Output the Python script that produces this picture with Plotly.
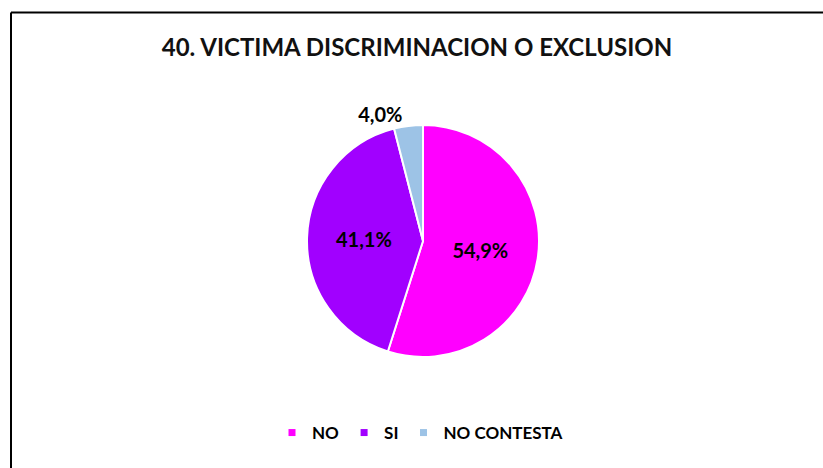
import plotly.graph_objects as go

# Survey answers for question 40
categories = ["NO", "SI", "NO CONTESTA"]
shares = [54.9, 41.1, 4.0]
colors = ["#FF00FF", "#A100FF", "#9DC3E6"]
title_text = "40. VICTIMA DISCRIMINACION O EXCLUSION"

W, H = 823, 468
FONT = "Lato, sans-serif"

fig = go.Figure()
fig.add_trace(
    go.Pie(
        labels=categories,
        values=shares,
        sort=False,
        direction="clockwise",
        rotation=0,
        showlegend=False,
        marker=dict(colors=colors, line=dict(color="white", width=2)),
        texttemplate="%{percent:.1%}",
        textposition=["inside", "inside", "outside"],
        textfont=dict(family=FONT, size=20, color="black", weight="bold"),
        insidetextorientation="horizontal",
        hoverinfo="label+percent",
        domain=dict(x=[(423 - 140) / W, (423 + 140) / W],
                    y=[1 - 357 / H, 1 - 125 / H]),
    )
)

# legend entries with small square keys
for name, col in zip(categories, colors):
    fig.add_trace(
        go.Scatter(
            x=[None], y=[None], mode="markers", name=name,
            marker=dict(symbol="square", size=7, color=col),
            hoverinfo="skip",
        )
    )

fig.update_layout(
    width=W,
    height=H,
    margin=dict(l=0, r=0, t=0, b=0),
    paper_bgcolor="white",
    plot_bgcolor="white",
    separators=",.",
    xaxis=dict(visible=False),
    yaxis=dict(visible=False),
    title=dict(
        text=title_text,
        x=417 / W,
        xanchor="center",
        y=1 - 48 / H,
        yanchor="middle",
        font=dict(family=FONT, size=24, color="#111111", weight="bold"),
    ),
    legend=dict(
        orientation="h",
        x=420 / W,
        xanchor="center",
        y=1 - 433 / H,
        yanchor="middle",
        font=dict(family=FONT, size=17, color="black", weight="bold"),
        itemwidth=30,
        traceorder="normal",
    ),
    shapes=[
        # chart frame (top and left edges visible)
        dict(type="line", xref="paper", yref="paper",
             x0=11 / W, x1=1.02, y0=1 - 12.5 / H, y1=1 - 12.5 / H,
             line=dict(color="black", width=2)),
        dict(type="line", xref="paper", yref="paper",
             x0=11 / W, x1=11 / W, y0=1 - 12.5 / H, y1=-0.02,
             line=dict(color="black", width=2)),
    ],
)

fig.write_html("out.html")
